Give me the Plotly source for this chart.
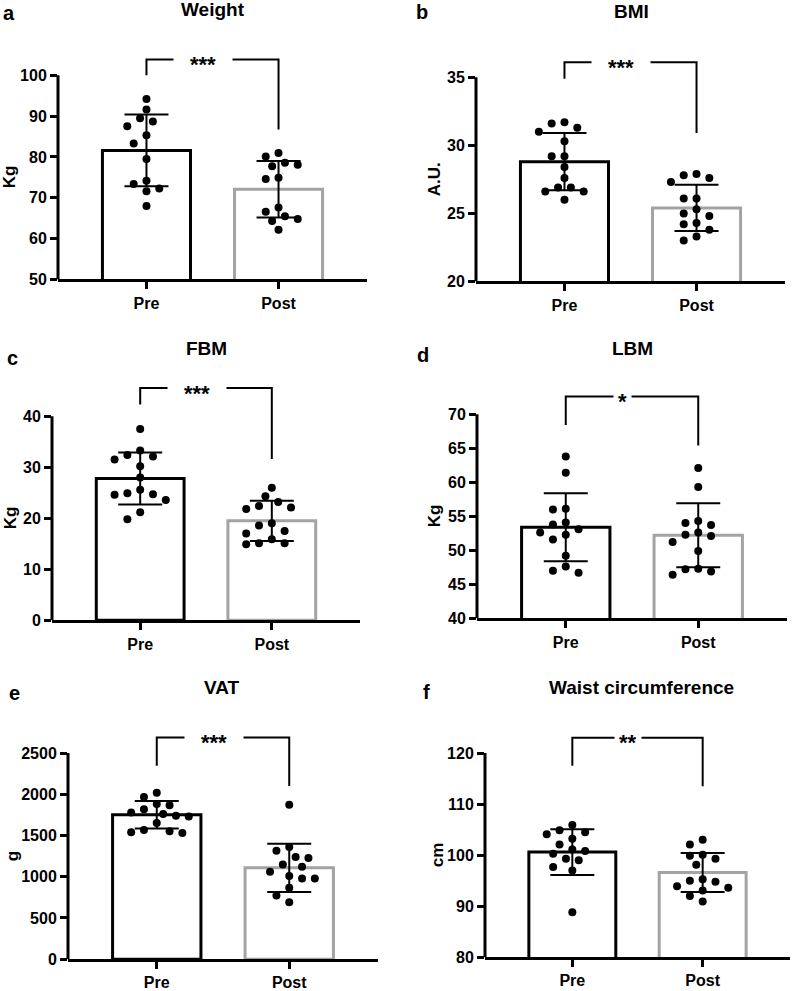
import plotly.graph_objects as go

W, H = 797, 991

categories = ["Pre", "Post"]

# ---- data ----
weight_pre = [94.2, 91.6, 89.5, 88.7, 87.5, 85.3, 83.3, 79.5, 74.2, 73.4, 72.3, 71.6, 68.0]
weight_post = [81.0, 80.1, 78.6, 78.1, 77.7, 74.9, 74.6, 67.6, 66.6, 65.5, 64.8, 64.3, 62.2]
weight_mean = [81.6, 72.1]
weight_sd = [8.8, 6.9]

bmi_pre = [31.7, 31.6, 31.3, 31.0, 30.3, 29.2, 29.2, 28.4, 27.6, 26.9, 26.6, 26.6, 26.9, 26.0]
bmi_post = [27.9, 27.6, 27.8, 27.3, 26.1, 26.1, 25.0, 25.3, 24.8, 24.3, 24.2, 23.8, 23.3, 23.0]
bmi_mean = [28.8, 25.4]
bmi_sd = [2.1, 1.7]

fbm_pre = [37.5, 33.3, 32.1, 31.5, 32.4, 30.2, 28.0, 24.9, 24.6, 23.6, 24.7, 25.6, 21.2, 19.8]
fbm_post = [26.0, 24.3, 23.2, 22.4, 21.8, 22.1, 19.0, 18.6, 17.0, 17.5, 15.1, 14.9, 15.1, 15.9]
fbm_mean = [27.8, 19.5]
fbm_sd = [5.1, 3.95]

lbm_pre = [63.8, 61.4, 56.0, 56.1, 54.1, 53.8, 53.1, 52.6, 52.3, 51.6, 49.2, 47.6, 46.7, 47.0]
lbm_post = [62.1, 59.3, 54.3, 54.0, 53.7, 52.6, 52.1, 52.3, 51.2, 49.9, 47.2, 47.3, 46.4, 46.9]
lbm_mean = [53.4, 52.2]
lbm_sd = [5.0, 4.7]

vat_pre = [2020, 1968, 1868, 1884, 1780, 1820, 1732, 1740, 1760, 1652, 1552, 1540, 1532, 1568]
vat_post = [1872, 1360, 1240, 1228, 1316, 1120, 1148, 1008, 980, 1060, 980, 868, 772, 692]
vat_mean = [1752, 1108]
vat_sd = [166, 292]

waist_pre = [105.9, 104.9, 104.1, 104.5, 103.2, 102.1, 101.1, 100.3, 100.8, 99.3, 99.0, 97.7, 97.0, 88.8]
waist_post = [103.0, 102.1, 99.9, 100.1, 98.1, 99.3, 95.0, 95.3, 93.9, 94.8, 93.1, 93.6, 92.0, 90.9]
waist_mean = [100.6, 96.6]
waist_sd = [4.5, 3.8]

titles = ["Weight", "BMI", "FBM", "LBM", "VAT", "Waist circumference"]
panel_labels = ["a", "b", "c", "d", "e", "f"]
y_titles = ["Kg", "A.U.", "Kg", "Kg", "g", "cm"]
significance = ["***", "***", "***", "*", "***", "**"]
# bracket: top level, left leg end, right leg end (data units)
bracket_top = [103.9, 36.1, 45.5, 72.6, 2688, 123.0]
bracket_left = [100.0, 34.9, 42.3, 68.4, 2348, 117.5]
bracket_right = [86.7, 30.9, 31.6, 65.4, 2100, 113.5]
y_lo = [50, 20, 0, 40, 0, 80]
y_hi = [100, 35, 40, 70, 2500, 120]
y_dtick = [10, 5, 10, 5, 500, 10]

pre_points = [weight_pre, bmi_pre, fbm_pre, lbm_pre, vat_pre, waist_pre]
post_points = [weight_post, bmi_post, fbm_post, lbm_post, vat_post, waist_post]
means = [weight_mean, bmi_mean, fbm_mean, lbm_mean, vat_mean, waist_mean]
sds = [weight_sd, bmi_sd, fbm_sd, lbm_sd, vat_sd, waist_sd]

# ---- layout geometry (pixels) ----
# axis left, axis right, pixel of y_lo, pixel of y_hi
boxes = [
    (58, 367, 282, 76),
    (476, 785, 284, 78),
    (52, 360, 626, 420),
    (477, 787, 624, 418),
    (68, 378, 968, 760),
    (485, 790, 966, 760),
]
title_pos = [(213, 10), (631, 12), (206, 352), (632, 352), (222, 694), (641, 694)]
label_pos = [(9, 13), (422, 12), (12, 361), (423, 358), (14, 699), (426, 698)]
ytitle_x = [9, 434, 10, 434, 12, 437]
EXT = 0.16
XR = [-0.67, 1.67]
FONT = "Liberation Sans, Arial, sans-serif"
GRAY = "#a3a3a3"


def swarm(values, ppu, ppc, diam=10.5, step=6.4):
    placed = []
    offs = [0.0] * len(values)
    order = sorted(range(len(values)), key=lambda i: -values[i])
    cands = [0.0]
    for j in range(1, 30):
        cands += [-j * step, j * step]
    for i in order:
        yp = values[i] * ppu
        chosen = cands[-1]
        for c in cands:
            if all((c - px) ** 2 + (yp - py) ** 2 >= diam ** 2 for px, py in placed):
                chosen = c
                break
        placed.append((chosen, yp))
        offs[i] = chosen / ppc
    return offs


fig = go.Figure()
layout = dict(
    width=W, height=H, margin=dict(l=0, r=0, t=0, b=0),
    paper_bgcolor="white", plot_bgcolor="white", showlegend=False,
    font=dict(family=FONT, color="black"),
)
shapes = []
annotations = []

for k in range(6):
    n = "" if k == 0 else str(k + 1)
    xa, ya = "x" + n, "y" + n
    left, right, plo, phi = boxes[k]
    lo, hi = y_lo[k], y_hi[k]
    hi_ext = hi + EXT * (hi - lo)
    ptop = phi - EXT * (plo - phi)
    ppu = (plo - phi) / (hi - lo)
    ppc = (right - left) / (XR[1] - XR[0])

    fig.add_trace(go.Bar(
        x=[0, 1], y=means[k], width=0.667, xaxis=xa, yaxis=ya,
        marker=dict(color="white", line=dict(color=["black", GRAY], width=3)),
        error_y=dict(type="data", array=sds[k], color="black", thickness=2, width=22),
    ))
    for ci, pts in enumerate([pre_points[k], post_points[k]]):
        offs = swarm(pts, ppu, ppc)
        fig.add_trace(go.Scatter(
            x=[ci + o for o in offs], y=pts, mode="markers", xaxis=xa, yaxis=ya,
            marker=dict(color="black", size=8), cliponaxis=False,
        ))

    layout["xaxis" + n] = dict(
        domain=[left / W, right / W], range=XR, anchor=ya,
        tickmode="array", tickvals=[0, 1], ticktext=categories,
        showline=True, linecolor="black", linewidth=3,
        ticks="outside", ticklen=7, tickwidth=2.5, tickcolor="black",
        tickfont=dict(size=16, family=FONT, weight="bold", color="black"),
        showgrid=False, zeroline=False, fixedrange=True,
    )
    layout["yaxis" + n] = dict(
        domain=[1 - plo / H, 1 - ptop / H], range=[lo, hi_ext], anchor=xa,
        tickmode="array", tickvals=list(range(lo, hi + 1, y_dtick[k])),
        showline=False, ticks="outside", ticklen=7, tickwidth=2.5, tickcolor="black",
        tickfont=dict(size=16, family=FONT, weight="bold", color="black"),
        showgrid=False, zeroline=False, fixedrange=True,
    )

    # y axis line
    shapes.append(dict(type="line", xref=xa + " domain", yref=ya, x0=0, x1=0, y0=lo, y1=hi,
                       line=dict(color="black", width=3)))
    # bracket
    path = "M 0,{l} L 0,{t} L 1,{t} L 1,{r}".format(l=bracket_left[k], t=bracket_top[k], r=bracket_right[k])
    shapes.append(dict(type="path", xref=xa, yref=ya, path=path, line=dict(color="black", width=2)))
    pad = {3: 16, 2: 4, 1: 4}[len(significance[k])]
    annotations.append(dict(
        xref=xa, yref=ya, x=0.43, y=bracket_top[k], text=significance[k], showarrow=False,
        font=dict(size=22, family=FONT, weight="bold", color="black"),
        bgcolor="white", borderpad=pad, yshift=-5, xanchor="center", yanchor="middle",
    ))
    # titles
    tx, ty = title_pos[k]
    annotations.append(dict(xref="paper", yref="paper", x=tx / W, y=1 - ty / H, text="<b>%s</b>" % titles[k],
                            showarrow=False, xanchor="center", yanchor="middle",
                            font=dict(size=19, family=FONT, color="black")))
    lx, ly = label_pos[k]
    annotations.append(dict(xref="paper", yref="paper", x=lx / W, y=1 - ly / H, text="<b>%s</b>" % panel_labels[k],
                            showarrow=False, xanchor="center", yanchor="middle",
                            font=dict(size=20, family=FONT, color="black")))
    annotations.append(dict(xref="paper", yref="paper", x=ytitle_x[k] / W, y=1 - (plo + phi) / 2 / H,
                            text="<b>%s</b>" % y_titles[k], textangle=-90,
                            showarrow=False, xanchor="center", yanchor="middle",
                            font=dict(size=17, family=FONT, color="black")))

layout["shapes"] = shapes
layout["annotations"] = annotations
fig.update_layout(**layout)
fig.write_html("out.html", config={"displayModeBar": False},
               post_script="document.body.style.margin='0';document.body.style.overflow='hidden';")
